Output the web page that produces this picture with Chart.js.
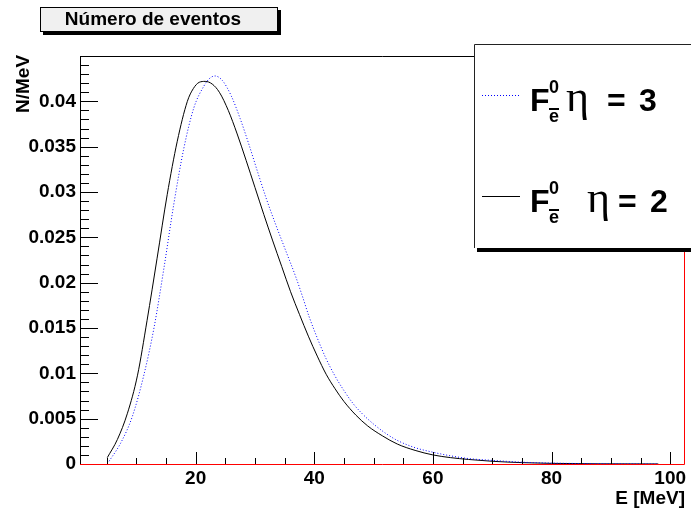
<!DOCTYPE html>
<html>
<head>
<meta charset="utf-8">
<script src="https://cdn.jsdelivr.net/npm/chart.js@4/dist/chart.umd.min.js"></script>
<style>
  body { margin: 0; background: #fff; }
  canvas { display: block; }
</style>
</head>
<body>
<canvas id="grafico" width="691" height="519"></canvas>
<script>
// eta = 2 (linea negra continua)
const eta2X = [5.1, 6.8, 8.5, 10.2, 11.8, 13.5, 15.2, 16.9, 18.6, 19.6, 20.6, 21.6, 22.8, 24, 25.5, 27, 28.5, 30, 31.5, 33, 34.5, 36, 37.5, 39, 40.5, 42, 43.5, 45, 47, 49, 51.5, 54, 57, 60, 63, 66, 70, 75, 80, 88, 98];
const eta2Y = [0.0007, 0.0027, 0.0056, 0.0098, 0.0158, 0.0227, 0.0297, 0.0356, 0.0400, 0.0414, 0.0421, 0.0422, 0.0419, 0.0410, 0.0390, 0.0364, 0.0335, 0.0305, 0.0275, 0.0246, 0.0218, 0.0190, 0.0165, 0.0141, 0.0119, 0.0099, 0.0083, 0.0069, 0.0054, 0.0042, 0.0031, 0.0022, 0.0015, 0.0010, 0.0007, 0.0005, 0.0003, 0.00015, 0.00007, 0.00002, 0.000005];

// eta = 3 (linea azul punteada)
const eta3X = [5.4, 7.35, 9.3, 11.3, 13.0, 14.65, 16.3, 18.0, 19.7, 21.4, 22.3, 23.25, 24.5, 26, 27.5, 29, 30.5, 32, 33.5, 35.2, 36.9, 38, 39.1, 40.5, 42, 43.5, 45, 46.5, 48, 50, 52, 54, 57, 60, 63, 66, 70, 75, 80, 88, 98];
const eta3Y = [0.0003, 0.0023, 0.0052, 0.0099, 0.0151, 0.0216, 0.0286, 0.0348, 0.0393, 0.0417, 0.0425, 0.0428, 0.0423, 0.0406, 0.0381, 0.0352, 0.0321, 0.0291, 0.0264, 0.0235, 0.0206, 0.0185, 0.0163, 0.0139, 0.0116, 0.0097, 0.0081, 0.0067, 0.0056, 0.0044, 0.0034, 0.0026, 0.0018, 0.0013, 0.0009, 0.0006, 0.0004, 0.0002, 0.0001, 0.00003, 0.00001];

// ejes
const xMin = 0.5, xMax = 102.5;
const yMin = 0, yMax = 0.045;
const xMajorTicks = [20, 40, 60, 80, 100];
const xTickLabels = ['20', '40', '60', '80', '100'];
const yMajorTicks = [0, 0.005, 0.01, 0.015, 0.02, 0.025, 0.03, 0.035, 0.04];
const yTickLabels = ['0', '0.005', '0.01', '0.015', '0.02', '0.025', '0.03', '0.035', '0.04'];
const xMinorStep = 5, yMinorStep = 0.001;

const titulo = 'Número de eventos';
const tituloX = 'E [MeV]';
const tituloY = 'N/MeV';
const leyendaEta = ['3', '2'];

const sans = '"Liberation Sans", Arial, sans-serif';

function puntos(xs, ys) {
  return xs.map((x, i) => ({ x: x, y: ys[i] }));
}

// marco, marcas de los ejes e histograma rojo
const marcoPlugin = {
  id: 'marco',
  afterDatasetsDraw(chart) {
    const ctx = chart.ctx;
    const a = chart.chartArea;
    const sx = chart.scales.x, sy = chart.scales.y;
    ctx.save();
    ctx.strokeStyle = '#000';
    ctx.lineWidth = 1;
    ctx.beginPath();
    for (let v = xMinorStep; v < xMax; v += xMinorStep) {
      const px = Math.round(sx.getPixelForValue(v)) + 0.5;
      const len = (v % 20 === 0) ? 12 : 6;
      ctx.moveTo(px, a.bottom);
      ctx.lineTo(px, a.bottom - len);
    }
    for (let k = 1; k * yMinorStep < yMax + 1e-9; k++) {
      const py = Math.round(sy.getPixelForValue(k * yMinorStep)) + 0.5;
      const len = (k % 5 === 0) ? 18 : 9;
      ctx.moveTo(a.left, py);
      ctx.lineTo(a.left + len, py);
    }
    ctx.stroke();
    ctx.beginPath();
    ctx.moveTo(a.left + 0.5, a.bottom);
    ctx.lineTo(a.left + 0.5, a.top + 0.5);
    ctx.lineTo(a.right, a.top + 0.5);
    ctx.stroke();
    // histograma vacio (rojo)
    ctx.strokeStyle = '#ff0000';
    ctx.beginPath();
    const y0 = Math.round(sy.getPixelForValue(0)) + 0.5;
    const xr = Math.round(sx.getPixelForValue(xMax)) - 0.5;
    ctx.moveTo(sx.getPixelForValue(xMin), y0);
    ctx.lineTo(xr, y0);
    ctx.lineTo(xr, sy.getPixelForValue(yMax));
    ctx.stroke();
    ctx.restore();
  }
};

// titulo, eje y y leyenda estilo ROOT
const cajasPlugin = {
  id: 'cajas',
  afterDraw(chart) {
    const ctx = chart.ctx;
    ctx.save();
    // caja del titulo con sombra
    ctx.fillStyle = '#000';
    ctx.fillRect(43, 10, 238, 25);
    ctx.fillStyle = '#f0f0f0';
    ctx.fillRect(40, 7, 238, 25);
    ctx.strokeStyle = '#000';
    ctx.lineWidth = 1;
    ctx.strokeRect(40.5, 7.5, 237, 24);
    ctx.fillStyle = '#000';
    ctx.font = 'bold 19px ' + sans;
    ctx.textAlign = 'center';
    ctx.textBaseline = 'middle';
    ctx.fillText(titulo, 153, 20);

    // titulo del eje y
    ctx.save();
    ctx.translate(24, 113);
    ctx.rotate(-Math.PI / 2);
    ctx.textAlign = 'left';
    ctx.font = 'bold 19px ' + sans;
    ctx.fillText(tituloY, 0, 0);
    ctx.restore();

    // leyenda
    ctx.fillStyle = '#000';
    ctx.fillRect(477, 248, 220, 4);
    ctx.fillStyle = '#fff';
    ctx.fillRect(474, 44, 220, 204);
    ctx.strokeStyle = '#222';
    ctx.beginPath();
    ctx.moveTo(474.5, 248);
    ctx.lineTo(474.5, 44.5);
    ctx.lineTo(691, 44.5);
    ctx.stroke();

    const filas = [
      { y: 111, color: '#0000ff', dash: [1, 2], etaX: 566, eqX: 607, numX: 639 },
      { y: 212, color: '#000000', dash: [], etaX: 587, eqX: 618, numX: 650 }
    ];
    filas.forEach((f, i) => {
      ctx.strokeStyle = f.color;
      ctx.lineWidth = 1;
      ctx.setLineDash(f.dash);
      ctx.beginPath();
      ctx.moveTo(482, f.y - 15.5);
      ctx.lineTo(520, f.y - 15.5);
      ctx.stroke();
      ctx.setLineDash([]);

      ctx.fillStyle = '#000';
      ctx.textAlign = 'left';
      ctx.textBaseline = 'alphabetic';
      ctx.font = 'bold 32px ' + sans;
      ctx.fillText('F', 530, f.y);
      ctx.font = 'bold 18px ' + sans;
      ctx.fillText('0', 549, f.y - 18);
      ctx.fillText('e', 549, f.y + 11);
      ctx.fillRect(549, f.y - 3, 10, 2);
      ctx.font = '44px "Liberation Serif", "DejaVu Serif", serif';
      ctx.fillText('η', f.etaX, f.y);
      ctx.font = 'bold 32px ' + sans;
      ctx.fillText('=', f.eqX, f.y);
      ctx.fillText(leyendaEta[i], f.numX, f.y);
    });
    ctx.restore();
  }
};

const fuenteEje = { family: sans, size: 19, weight: 'bold' };

new Chart(document.getElementById('grafico').getContext('2d'), {
  type: 'line',
  data: {
    datasets: [
      {
        label: 'eta = 3',
        data: puntos(eta3X, eta3Y),
        borderColor: '#0000ff',
        borderWidth: 1,
        borderDash: [1, 2],
        pointRadius: 0,
        cubicInterpolationMode: 'monotone',
        fill: false
      },
      {
        label: 'eta = 2',
        data: puntos(eta2X, eta2Y),
        borderColor: '#000000',
        borderWidth: 1,
        pointRadius: 0,
        cubicInterpolationMode: 'monotone',
        fill: false
      }
    ]
  },
  options: {
    responsive: false,
    animation: false,
    devicePixelRatio: 1,
    layout: { padding: { top: 56, right: 6, left: 0, bottom: 0 } },
    plugins: {
      legend: { display: false },
      tooltip: { enabled: false },
      title: { display: false }
    },
    scales: {
      x: {
        type: 'linear',
        min: xMin,
        max: xMax,
        grid: { display: false, drawTicks: false },
        border: { display: false },
        afterBuildTicks(s) { s.ticks = xMajorTicks.map(v => ({ value: v })); },
        afterFit(s) { s.height = 55; },
        ticks: {
          color: '#000',
          font: fuenteEje,
          padding: 3,
          maxRotation: 0,
          callback: (v) => xTickLabels[xMajorTicks.indexOf(v)]
        },
        title: {
          display: true,
          text: tituloX,
          align: 'end',
          color: '#000',
          font: fuenteEje,
          padding: { top: 0, bottom: 9 }
        }
      },
      y: {
        type: 'linear',
        min: yMin,
        max: yMax,
        grid: { display: false, drawTicks: false },
        border: { display: false },
        afterBuildTicks(s) { s.ticks = yMajorTicks.map(v => ({ value: v })); },
        afterFit(s) { s.width = 80; },
        ticks: {
          color: '#000',
          font: fuenteEje,
          padding: 4,
          callback: (v) => yTickLabels[yMajorTicks.findIndex(t => Math.abs(t - v) < 1e-9)]
        }
      }
    }
  },
  plugins: [marcoPlugin, cajasPlugin]
});
</script>
</body>
</html>
